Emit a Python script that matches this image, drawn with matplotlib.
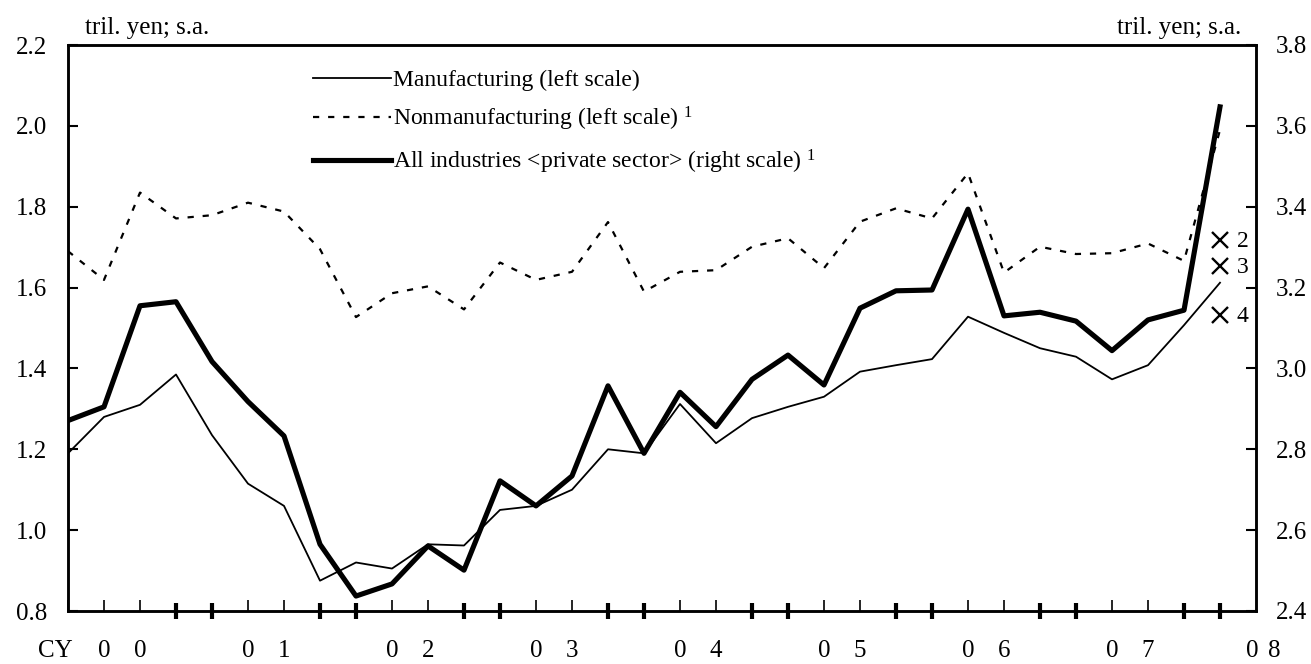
import matplotlib
matplotlib.use("Agg")
import matplotlib.pyplot as plt
import numpy as np

plt.rcParams['font.family'] = ['Liberation Serif', 'DejaVu Serif']
plt.rcParams['mathtext.fontset'] = 'custom'
plt.rcParams['mathtext.rm'] = 'Liberation Serif'
plt.rcParams['mathtext.it'] = 'Liberation Serif'

# quarterly, CY2000 Q1 .. CY2008 Q1
manufacturing = [1.19, 1.28, 1.31, 1.385, 1.235, 1.115, 1.06, 0.875, 0.92, 0.905,
                 0.965, 0.962, 1.05, 1.06, 1.10, 1.20, 1.19, 1.312, 1.215, 1.277,
                 1.305, 1.33, 1.392, 1.408, 1.423, 1.528, 1.488, 1.45, 1.429, 1.373,
                 1.408, 1.507, 1.612]
nonmanufacturing = [1.69, 1.619, 1.835, 1.771, 1.779, 1.81, 1.788, 1.695, 1.527, 1.586,
                    1.603, 1.546, 1.662, 1.619, 1.639, 1.762, 1.59, 1.639, 1.643, 1.701,
                    1.722, 1.648, 1.763, 1.796, 1.771, 1.883, 1.637, 1.701, 1.683, 1.685,
                    1.709, 1.666, 1.99]
all_industries = [2.871, 2.905, 3.155, 3.165, 3.017, 2.918, 2.833, 2.565, 2.437, 2.467,
                  2.561, 2.501, 2.722, 2.66, 2.734, 2.957, 2.79, 2.941, 2.856, 2.973,
                  3.033, 2.959, 3.149, 3.192, 3.194, 3.394, 3.13, 3.139, 3.117, 3.044,
                  3.12, 3.144, 3.647]
# forecasts shown as crosses at the last quarter (left scale)
forecast_vals = [1.718, 1.653, 1.532]
forecast_labels = ['2', '3', '4']

year_labels = ['00', '01', '02', '03', '04', '05', '06', '07', '08']
year_first_digit = [1, 5, 9, 13, 17, 21, 25, 29, 32.9]
year_digit_gap = [1, 1, 1, 1, 1, 1, 1, 1, 0.6]

labels = ['Manufacturing (left scale)',
          r'Nonmanufacturing (left scale) $^{\mathrm{1}}$',
          r'All industries <private sector> (right scale) $^{\mathrm{1}}$']

n = len(manufacturing)
x = np.arange(n)

fig = plt.figure(figsize=(13.11, 6.64), dpi=100)
ax = fig.add_axes([68 / 1311, 53 / 664, 1188 / 1311, 566 / 664])
ax2 = ax.twinx()

l1, = ax.plot(x, manufacturing, color='black', lw=1.3)
l2, = ax.plot(x, nonmanufacturing, color='black', lw=1.6, dashes=(2.8, 4.0))
l3, = ax2.plot(x, all_industries, color='black', lw=3.7)
ax2.plot([x[-1]] * len(forecast_vals), [v + 1.6 for v in forecast_vals], 'x',
         color='black', ms=12, mew=1.7)
for v, t in zip(forecast_vals, forecast_labels):
    ax2.annotate(t, (x[-1], v + 1.6), xytext=(12, -1), textcoords='offset points',
                 va='center', ha='left', fontsize=17)

ax.set_xlim(0, n)
ax.set_ylim(0.8, 2.2)
ax2.set_ylim(2.4, 3.8)
ax.set_yticks(np.arange(0.8, 2.21, 0.2))
ax2.set_yticks(np.arange(2.4, 3.81, 0.2))
ax.set_yticklabels([f'{v:.1f}' for v in np.arange(0.8, 2.21, 0.2)])
ax2.set_yticklabels([f'{v:.1f}' for v in np.arange(2.4, 3.81, 0.2)])

thick = [p for y in range(0, n, 4) for p in (y + 3, y + 4) if p < n]
ax.set_xticks(thick)
ax.set_xticks(np.arange(n), minor=True)
ax.set_xticklabels([])
ax.tick_params(axis='x', which='major', direction='inout', length=12, width=3)
ax.tick_params(axis='x', which='minor', direction='in', length=8, width=1.2)
ax.tick_params(axis='y', direction='in', length=7, width=1.5, labelsize=18, pad=15)
ax2.tick_params(axis='y', direction='in', length=7, width=1.5, labelsize=18, pad=14)

for a in (ax, ax2):
    for s in a.spines.values():
        s.set_linewidth(1.8)

ylab = -0.071
for lab, p, g in zip(year_labels, year_first_digit, year_digit_gap):
    ax.text(p, ylab, lab[0], transform=ax.get_xaxis_transform(), ha='center',
            va='center', fontsize=18)
    ax.text(p + g, ylab, lab[1], transform=ax.get_xaxis_transform(), ha='center',
            va='center', fontsize=18)
ax.text(-0.011, ylab, 'CY', transform=ax.transAxes, ha='center', va='center', fontsize=18)

ax.text(0.014, 1.01, 'tril. yen; s.a.', transform=ax.transAxes, ha='left',
        va='bottom', fontsize=18)
ax.text(0.988, 1.01, 'tril. yen; s.a.', transform=ax.transAxes, ha='right',
        va='bottom', fontsize=18)

ax2.legend([l1, l2, l3], labels, loc='upper left', bbox_to_anchor=(0.206, 0.957),
           frameon=False, fontsize=17, handlelength=3.3, handletextpad=0.1,
           borderpad=0, borderaxespad=0, labelspacing=0.6)

fig.savefig('out.png', dpi=100)
